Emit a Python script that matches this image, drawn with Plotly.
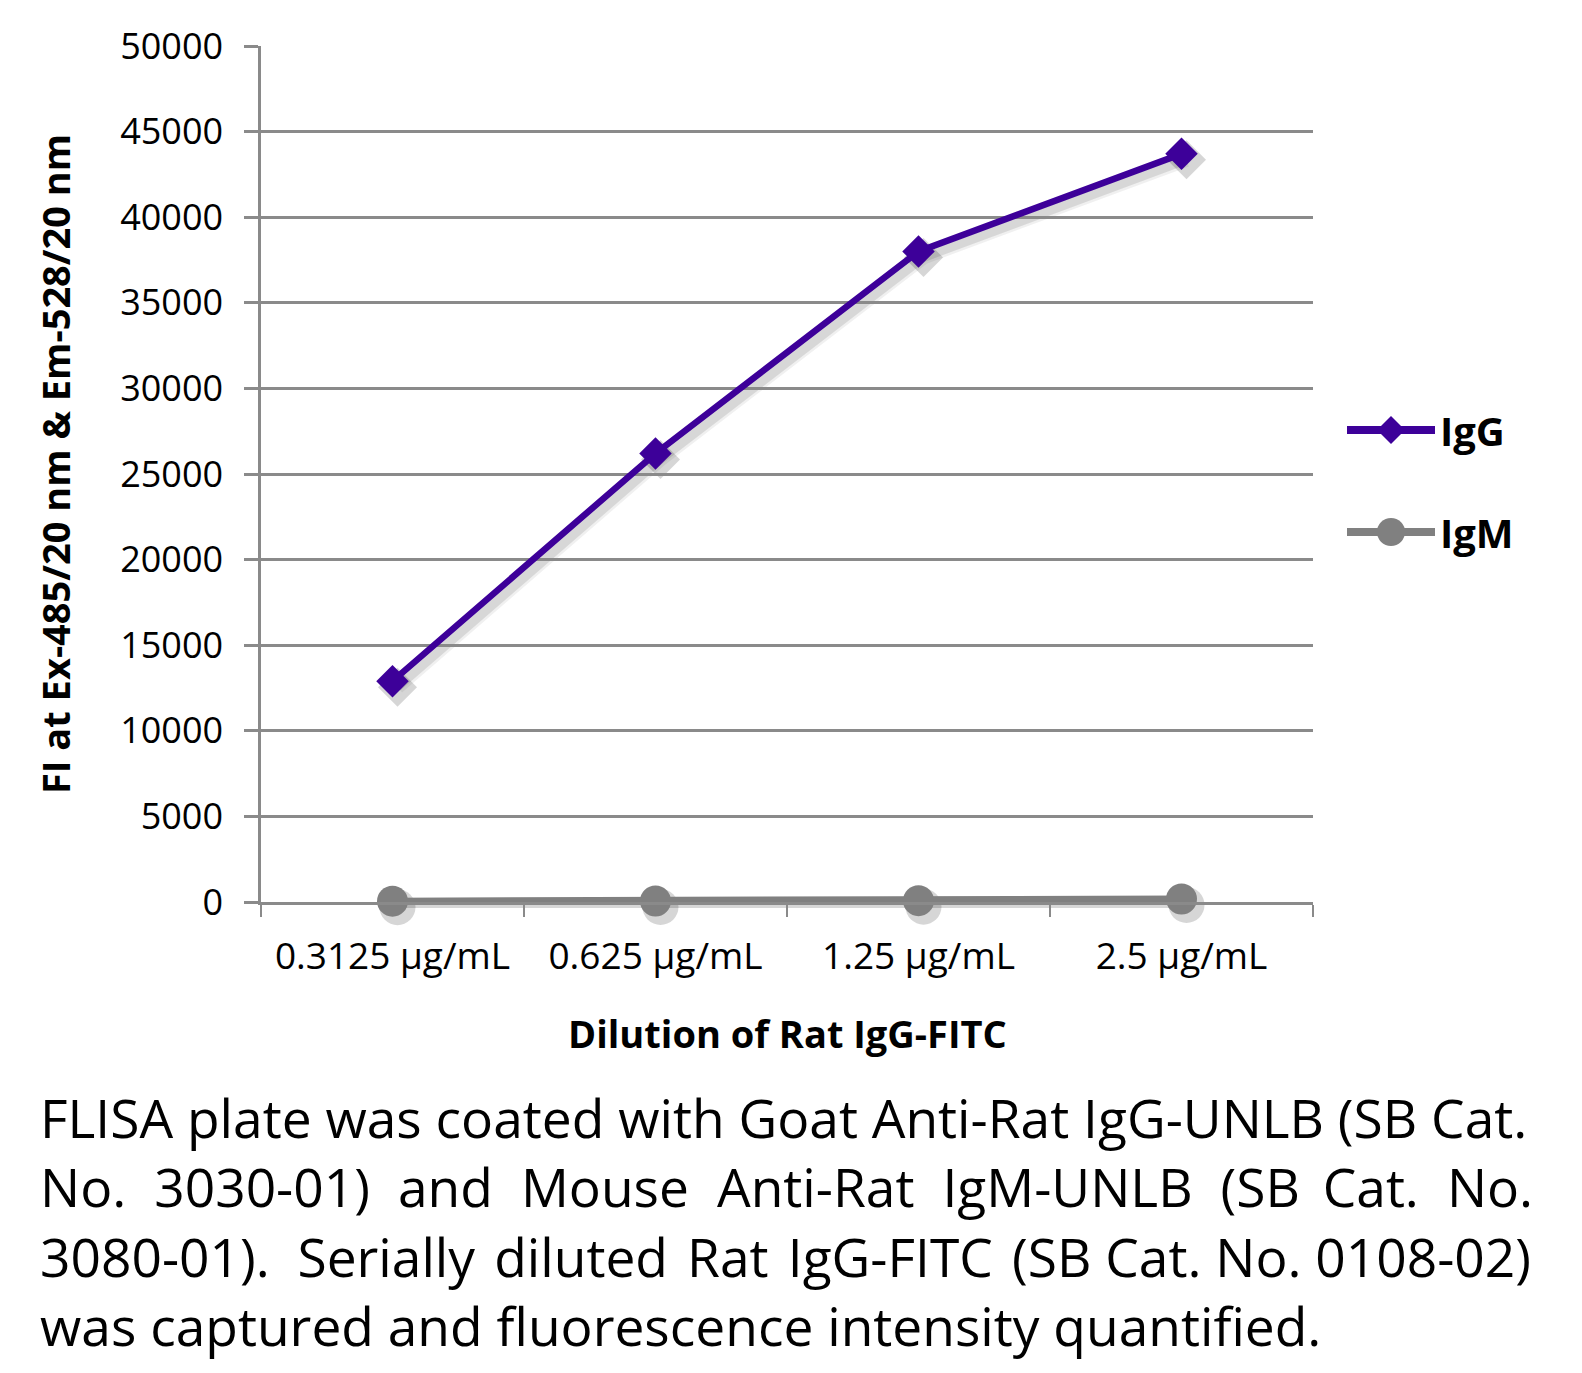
import plotly.graph_objects as go

# ---------------- data ----------------
categories = ["0.3125 µg/mL", "0.625 µg/mL", "1.25 µg/mL", "2.5 µg/mL"]
igg_values = [12900, 26200, 38000, 43700]
igm_values = [50, 60, 80, 180]
series_names = ["IgG", "IgM"]
y_ticks = [0, 5000, 10000, 15000, 20000, 25000, 30000, 35000, 40000, 45000, 50000]
x_title = "Dilution of Rat IgG-FITC"
y_title = "FI at Ex-485/20 nm & Em-528/20 nm"
TS = "\u2009\u200a"  # thin + hair space used to widen justified caption lines
T1 = "\u2009"
HS = "\u200a"
caption_lines = [
    f"FLISA plate was coated with Goat Anti-Rat IgG-UNLB (SB Cat.",
    f"No.{TS} 3030-01){TS} and{TS} Mouse{TS} Anti-Rat{TS} IgM-UNLB{TS} (SB{T1} Cat.{TS} No.",
    f"3080-01).\u00a0 Serially{HS} diluted{HS} Rat{HS} IgG-FITC{HS} (SB Cat. No. 0108-02)",
    "was captured and fluorescence intensity quantified.",
]

# ---------------- styling ----------------
OFF = 8                      # page body margin of the html page
W_PX, H_PX = 1582 - 2 * OFF, 1373 - 2 * OFF
ML, MT = 261 - OFF, 46 - OFF
PAPER_R, PAPER_B = 1318 - OFF, 908 - OFF
MR, MB = W_PX - PAPER_R, H_PX - PAPER_B
PW = PAPER_R - ML
PH = PAPER_B - MT
SH_DX, SH_DY = 5, 6
FONT = "Open Sans"
IGG_COLOR = "#3D0099"
IGM_COLOR = "#808080"
GRID = "#8A8A8A"


def px_x(px):
    """target-screenshot pixel -> paper coordinate"""
    return (px - OFF - ML) / PW


def px_y(py):
    return (PAPER_B - (py - OFF)) / PH


fig = go.Figure()

# shadow traces (drawn on a hidden, slightly shifted copy of the axes)
for vals in (igg_values, igm_values):
    for w, a in ((14, 0.06), (9, 0.10)):
        fig.add_trace(go.Scatter(
            x=categories, y=vals, mode="lines", xaxis="x", yaxis="y",
            line=dict(color=f"rgba(0,0,0,{a})", width=w), cliponaxis=False,
            hoverinfo="skip", showlegend=False))
fig.add_trace(go.Scatter(
    x=categories, y=igg_values, mode="markers", xaxis="x", yaxis="y",
    marker=dict(symbol="diamond", size=30, color="rgba(0,0,0,0.16)"),
    cliponaxis=False, hoverinfo="skip", showlegend=False))
fig.add_trace(go.Scatter(
    x=categories, y=igm_values, mode="markers", xaxis="x", yaxis="y",
    marker=dict(symbol="circle", size=36, color="rgba(0,0,0,0.16)"),
    cliponaxis=False, hoverinfo="skip", showlegend=False))

# main traces
fig.add_trace(go.Scatter(
    x=categories, y=igg_values, name=series_names[0], mode="lines+markers",
    xaxis="x2", yaxis="y2", cliponaxis=False,
    line=dict(color=IGG_COLOR, width=6.5),
    marker=dict(symbol="diamond", size=25, color=IGG_COLOR),
    showlegend=False))
fig.add_trace(go.Scatter(
    x=categories, y=igm_values, name=series_names[1], mode="lines+markers",
    xaxis="x2", yaxis="y2", cliponaxis=False,
    line=dict(color=IGM_COLOR, width=7),
    marker=dict(symbol="circle", size=31, color=IGM_COLOR),
    showlegend=False))

tickfont = dict(family=FONT, size=37, color="black")

fig.update_layout(
    width=W_PX, height=H_PX,
    margin=dict(l=ML, r=MR, t=MT, b=MB, pad=0),
    paper_bgcolor="white",
    plot_bgcolor="rgba(0,0,0,0)",
    showlegend=False,
    xaxis=dict(domain=[SH_DX / PW, 1], anchor="y", visible=False,
               type="category", categoryarray=categories, range=[-0.5, 3.5]),
    yaxis=dict(domain=[0, 1 - SH_DY / PH], anchor="x", visible=False,
               range=[0, 50000]),
    xaxis2=dict(domain=[0, 1 - SH_DX / PW], anchor="y2",
                type="category", categoryarray=categories, range=[-0.5, 3.5],
                showline=True, linecolor=GRID, linewidth=2.5,
                ticks="outside", tickson="boundaries", ticklen=12,
                tickwidth=2, tickcolor=GRID, showgrid=False,
                tickfont=tickfont, ticklabelstandoff=20),
    yaxis2=dict(domain=[SH_DY / PH, 1], anchor="x2",
                range=[0, 50000], tickvals=y_ticks,
                ticktext=[str(v) for v in y_ticks],
                showline=True, linecolor=GRID, linewidth=2.5,
                showgrid=True, gridcolor=GRID, gridwidth=2.5,
                zeroline=False,
                ticks="outside", ticklen=14, tickwidth=2.5, tickcolor=GRID,
                tickfont=dict(family=FONT, size=36, color="black"),
                ticklabelstandoff=14),
)

annotations = []
# axis titles
annotations.append(dict(
    text=f"<b>{x_title}</b>", x=px_x(787), y=px_y(1033),
    xref="paper", yref="paper", xanchor="center", yanchor="middle",
    showarrow=False, font=dict(family=FONT, size=38, color="black")))
annotations.append(dict(
    text=f"<b>{y_title}</b>", x=px_x(55), y=px_y(464), textangle=-90,
    xref="paper", yref="paper", xanchor="center", yanchor="middle",
    showarrow=False, font=dict(family=FONT, size=38, color="black")))

# legend (custom drawn)
shapes = []
legend_rows = [(series_names[0], IGG_COLOR, "diamond", 430),
               (series_names[1], IGM_COLOR, "circle", 532)]
for name, color, sym, ly in legend_rows:
    shapes.append(dict(type="line", xref="paper", yref="paper",
                       x0=px_x(1347), x1=px_x(1435), y0=px_y(ly), y1=px_y(ly),
                       line=dict(color=color, width=8)))
    if sym == "diamond":
        shapes.append(dict(type="path", xref="paper", yref="paper",
                           xsizemode="pixel", ysizemode="pixel",
                           xanchor=px_x(1391), yanchor=px_y(ly),
                           path="M-14,0 L0,14 L14,0 L0,-14 Z",
                           fillcolor=color, line=dict(width=0)))
    else:
        shapes.append(dict(type="circle", xref="paper", yref="paper",
                           xsizemode="pixel", ysizemode="pixel",
                           xanchor=px_x(1391), yanchor=px_y(ly),
                           x0=-14, x1=14, y0=-14, y1=14,
                           fillcolor=color, line=dict(width=0)))
    annotations.append(dict(
        text=f"<b>{name}</b>", x=px_x(1438), y=px_y(ly),
        xref="paper", yref="paper", xanchor="left", yanchor="middle",
        showarrow=False, font=dict(family=FONT, size=40, color="black")))

# caption (one multi-line text block)
annotations.append(dict(
    text="<br>".join(caption_lines), x=px_x(38), y=px_y(1221),
    xref="paper", yref="paper", xanchor="left", yanchor="middle",
    align="left", showarrow=False,
    font=dict(family=FONT, size=53.3, color="black")))

fig.update_layout(annotations=annotations, shapes=shapes)

fig.write_html("out.html")
